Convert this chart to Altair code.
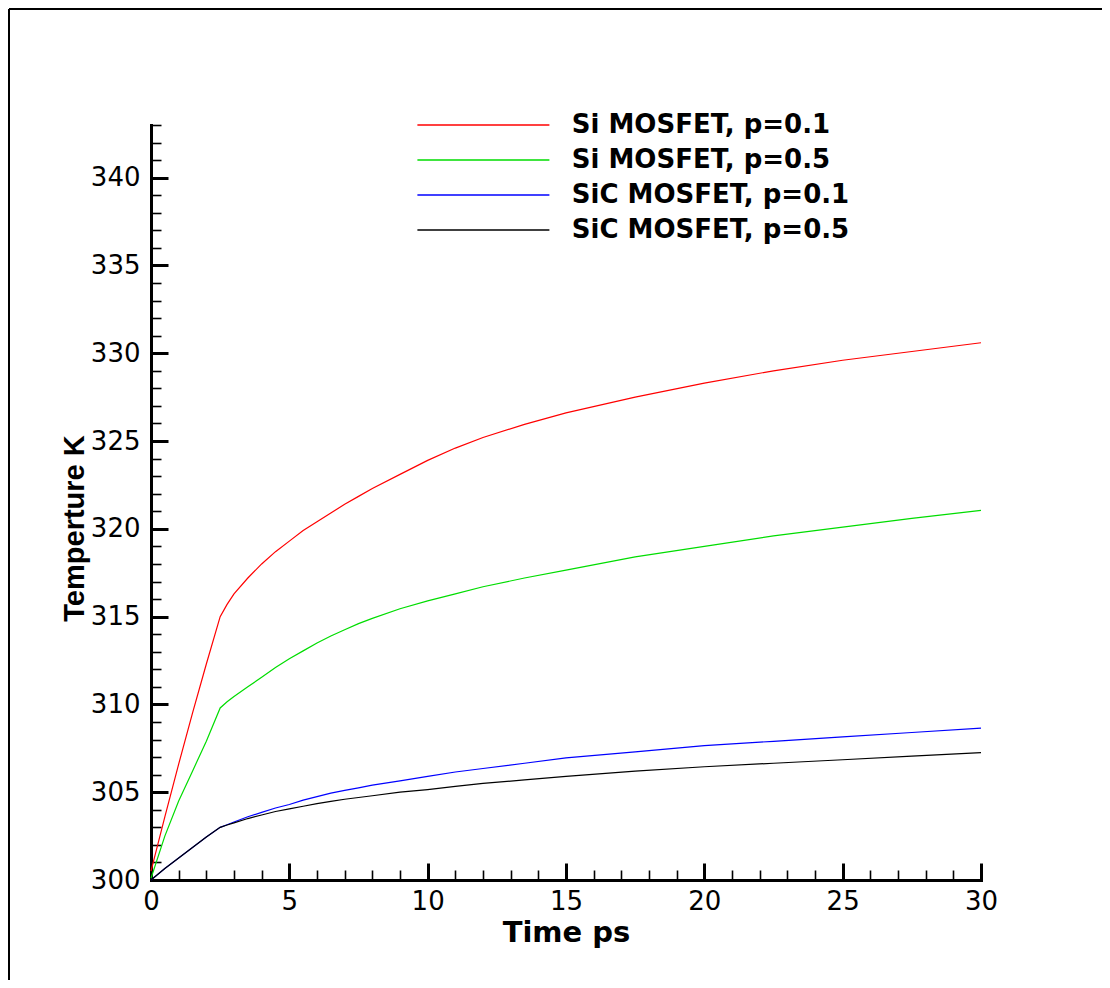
import altair as alt
import pandas as pd

# ---- data ----
times = [0, 0.5, 1, 1.5, 2, 2.5, 2.75, 3, 3.5, 4, 4.5, 5, 5.5, 6, 6.5, 7, 7.5, 8, 9, 10, 11, 12,
         13.5, 15, 17.5, 20, 22.5, 25, 27.5, 30]
si_p01 = [300.5, 303.6, 306.6, 309.5, 312.3, 315.0, 315.7, 316.3, 317.2, 318.0, 318.7, 319.3,
          319.9, 320.4, 320.9, 321.4, 321.85, 322.3, 323.1, 323.9, 324.6, 325.2, 325.95, 326.6,
          327.5, 328.3, 329.0, 329.6, 330.1, 330.6]
si_p05 = [300.1, 302.5, 304.5, 306.2, 307.9, 309.8, 310.15, 310.45, 311.0, 311.55, 312.1, 312.6,
          313.05, 313.5, 313.9, 314.25, 314.6, 314.9, 315.45, 315.9, 316.3, 316.7, 317.2, 317.65,
          318.4, 319.0, 319.6, 320.1, 320.6, 321.05]
sic_p01 = [300.0, 300.65, 301.25, 301.85, 302.45, 303.0, 303.15, 303.3, 303.6, 303.85, 304.1,
           304.3, 304.55, 304.75, 304.95, 305.1, 305.25, 305.4, 305.65, 305.9, 306.15, 306.35,
           306.65, 306.95, 307.3, 307.65, 307.9, 308.15, 308.4, 308.65]
sic_p05 = [300.0, 300.65, 301.25, 301.85, 302.45, 303.0, 303.13, 303.25, 303.5, 303.7, 303.9,
           304.05, 304.2, 304.35, 304.48, 304.6, 304.7, 304.8, 305.0, 305.15, 305.33, 305.5,
           305.7, 305.9, 306.2, 306.45, 306.65, 306.85, 307.05, 307.25]

series_names = ["Si MOSFET, p=0.1", "Si MOSFET, p=0.5", "SiC MOSFET, p=0.1", "SiC MOSFET, p=0.5"]
series_colors = ["#ff0000", "#00dd00", "#0000ff", "#000000"]

x_major = [0, 5, 10, 15, 20, 25, 30]
x_minor = [v for v in range(0, 31) if v % 5 != 0]
y_major = [300, 305, 310, 315, 320, 325, 330, 335, 340]
y_minor = [v for v in range(300, 344) if v % 5 != 0]

rows = []
for name, vals in zip(series_names, [si_p01, si_p05, sic_p01, sic_p05]):
    for t, v in zip(times, vals):
        rows.append({"t": t, "T": v, "series": name})
df = pd.DataFrame(rows)

W, H = 830, 755
PL, PT, PR, PB = 143, 117, 121, 100

xs = alt.Scale(domain=[0, 30], nice=False, zero=False)
ys = alt.Scale(domain=[300, 343], nice=False, zero=False)

main_x = alt.Axis(orient="bottom", values=x_major, ticks=False, tickSize=0, domainWidth=3,
                  domainColor="black", domainCap="square", labelFont="DejaVu Sans",
                  labelFontSize=26, labelColor="black", labelPadding=8, labelFlush=False,
                  grid=False, title="Time ps", titleFont="DejaVu Sans", titleFontWeight="bold",
                  titleFontSize=29, titleColor="black", titleY=52, titleBaseline="middle")
main_y = alt.Axis(orient="left", values=y_major, ticks=False, tickSize=0, domainWidth=3,
                  domainColor="black", domainCap="square", labelFont="DejaVu Sans",
                  labelFontSize=26, labelColor="black", labelPadding=11, labelFlush=False,
                  grid=False, title="Temperture K", titleFont="Liberation Sans",
                  titleFontWeight="bold", titleFontSize=29, titleColor="black",
                  titleX=-77, titleY=403, titleAngle=270, titleAlign="center",
                  titleBaseline="middle")


def tick_axis(orient, offset, values, size, width):
    return alt.Axis(orient=orient, offset=offset, values=values, labels=False, domain=False,
                    tickSize=size, tickWidth=width, tickColor="black", grid=False, title=None)


legend = alt.Legend(orient="none", legendX=319.4, legendY=-13, title=None,
                    symbolType="M-10,0H10", symbolSize=174.24, symbolStrokeWidth=1.5,
                    labelFont="DejaVu Sans", labelFontWeight="bold", labelFontSize=26,
                    labelColor="black", labelOffset=75.4, rowPadding=9, padding=0,
                    labelLimit=600)

lines = alt.Chart(df).mark_line(strokeWidth=1.2).encode(
    x=alt.X("t:Q", scale=xs, axis=main_x),
    y=alt.Y("T:Q", scale=ys, axis=main_y),
    color=alt.Color("series:N", scale=alt.Scale(domain=series_names, range=series_colors),
                    legend=legend),
    detail="series:N",
)

major_ticks = alt.Chart(df).mark_point(opacity=0).encode(
    x=alt.X("t:Q", scale=xs, axis=tick_axis("top", -H, x_major, 17, 3)),
    y=alt.Y("T:Q", scale=ys, axis=tick_axis("right", -W, y_major, 17, 3)),
)
minor_ticks = alt.Chart(df).mark_point(opacity=0).encode(
    x=alt.X("t:Q", scale=xs, axis=tick_axis("top", -H, x_minor, 10, 1.6)),
    y=alt.Y("T:Q", scale=ys, axis=tick_axis("right", -W, y_minor, 10, 1.6)),
)

frame_df = pd.DataFrame({"k": [0]})
frame_left = alt.Chart(frame_df).mark_rule(color="black", strokeWidth=2).encode(
    x=alt.value(-PL + 1), y=alt.value(-PT + 1), y2=alt.value(H + PB)
)
frame_top = alt.Chart(frame_df).mark_rule(color="black", strokeWidth=2).encode(
    x=alt.value(-PL + 1), x2=alt.value(W + PR), y=alt.value(-PT + 1)
)

chart = alt.layer(lines, major_ticks, minor_ticks, frame_left, frame_top).resolve_axis(
    x="independent", y="independent"
).properties(
    width=W, height=H,
    padding={"left": PL, "top": PT, "right": PR, "bottom": PB},
    autosize=alt.AutoSizeParams(type="none"),
    background="white",
).configure_view(stroke=None)

chart.save("out.html", embed_options={"renderer": "svg", "actions": False})
